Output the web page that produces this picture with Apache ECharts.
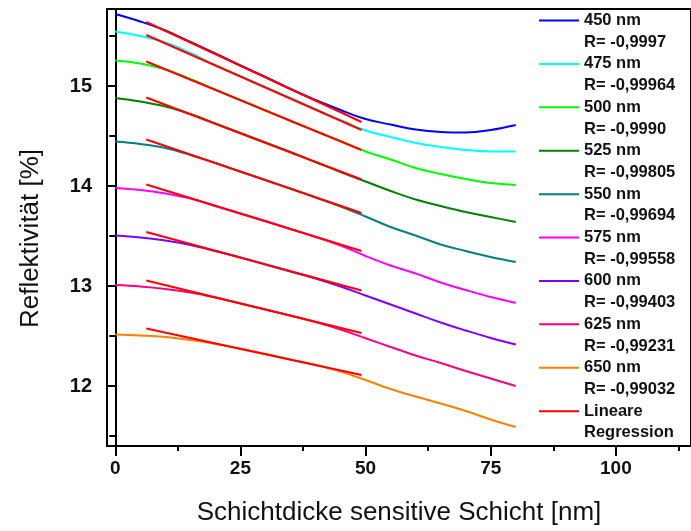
<!DOCTYPE html>
<html>
<head>
<meta charset="utf-8">
<script src="https://cdn.jsdelivr.net/npm/echarts@6/dist/echarts.min.js"></script>
<style>
  html, body { margin: 0; padding: 0; background: #fff; }
  #chart { width: 691px; height: 531px; }
</style>
</head>
<body>
<div id="chart"></div>
<script>
// Schichtdicke [nm]
const thickness = [0, 5, 10, 15, 20, 25, 30, 35, 40, 45, 50, 55, 60, 65, 70, 75, 80];

// Reflektivität [%] je Wellenlänge
const r450 = [15.72, 15.645, 15.555, 15.44, 15.325, 15.205, 15.09, 14.97, 14.86, 14.76, 14.67, 14.615, 14.565, 14.54, 14.535, 14.56, 14.61];
const r475 = [15.545, 15.5, 15.435, 15.33, 15.21, 15.1, 14.99, 14.88, 14.77, 14.66, 14.555, 14.49, 14.43, 14.39, 14.36, 14.345, 14.345];
const r500 = [15.255, 15.225, 15.165, 15.07, 14.965, 14.86, 14.755, 14.65, 14.55, 14.45, 14.345, 14.265, 14.18, 14.12, 14.07, 14.03, 14.01];
const r525 = [14.88, 14.845, 14.795, 14.72, 14.625, 14.53, 14.435, 14.34, 14.24, 14.14, 14.045, 13.95, 13.865, 13.8, 13.74, 13.69, 13.64];
const r550 = [14.445, 14.42, 14.38, 14.31, 14.23, 14.145, 14.06, 13.975, 13.885, 13.795, 13.695, 13.59, 13.505, 13.415, 13.35, 13.29, 13.24];
const r575 = [13.98, 13.96, 13.925, 13.875, 13.8, 13.725, 13.65, 13.57, 13.49, 13.405, 13.3, 13.205, 13.125, 13.035, 12.96, 12.89, 12.83];
const r600 = [13.505, 13.485, 13.455, 13.41, 13.35, 13.285, 13.215, 13.145, 13.075, 12.995, 12.905, 12.815, 12.725, 12.635, 12.555, 12.48, 12.415];
const r625 = [13.01, 12.995, 12.97, 12.935, 12.885, 12.825, 12.765, 12.705, 12.64, 12.565, 12.478, 12.39, 12.305, 12.23, 12.15, 12.075, 12.0];
const r650 = [12.515, 12.505, 12.49, 12.46, 12.42, 12.37, 12.32, 12.265, 12.21, 12.145, 12.06, 11.97, 11.895, 11.825, 11.75, 11.665, 11.59];

const curves = [r450, r475, r500, r525, r550, r575, r600, r625, r650];
const names = ['450 nm', '475 nm', '500 nm', '525 nm', '550 nm', '575 nm', '600 nm', '625 nm', '650 nm'];
const rValues = ['-0,9997', '-0,99964', '-0,9990', '-0,99805', '-0,99694', '-0,99558', '-0,99403', '-0,99231', '-0,99032'];
const colors = ['#0000ff', '#00ffff', '#00ff00', '#008000', '#008080', '#ff00ff', '#8000ff', '#ff0080', '#ff8000'];

// lineare Regression: Anfang und Ende jeder Geraden
const regX = [6.2, 49.2];
const regStart = [15.64, 15.51, 15.245, 14.885, 14.465, 14.015, 13.54, 13.055, 12.575];
const regEnd = [14.64, 14.56, 14.36, 14.065, 13.73, 13.35, 12.955, 12.53, 12.11];

const xMajorTicks = [0, 25, 50, 75, 100];
const xMinorTicks = [12.5, 37.5, 62.5, 87.5, 112.5];
const yMajorTicks = [12, 13, 14, 15];
const yMinorTicks = [11.5, 12.5, 13.5, 14.5, 15.5];

const chart = echarts.init(document.getElementById('chart'));

const font = 'Liberation Sans, Arial, sans-serif';
const xRange = { min: -1.65, max: 115 };
const yRange = { min: 11.4, max: 15.77 };

const series = [];
curves.forEach((vals, i) => {
    series.push({
        name: names[i],
        type: 'line',
        symbol: 'none',
        smooth: 0.4,
        color: colors[i],
        lineStyle: { width: 2 },
        data: thickness.map((x, j) => [x, vals[j]])
    });
});
regStart.forEach((v, i) => {
    series.push({
        name: 'Lineare Regression',
        type: 'line',
        symbol: 'none',
        color: '#ff0000',
        lineStyle: { width: 2 },
        z: 3,
        data: [[regX[0], v], [regX[1], regEnd[i]]]
    });
});

const option = {
    animation: false,
    grid: {
        left: 107, top: 9, right: -3, bottom: 84,
        show: true, borderColor: '#000', borderWidth: 2
    },
    legend: {
        orient: 'vertical',
        left: 539,
        top: -12,
        padding: 0,
        icon: 'rect',
        itemWidth: 40,
        itemHeight: 2,
        itemGap: -21.7,
        selectedMode: false,
        data: names.concat(['Lineare Regression']),
        // erste Zeile leer, damit die Linie auf Höhe der Namenszeile sitzt
        formatter: (name) => {
            const i = names.indexOf(name);
            if (i < 0) return ' \nLineare\nRegression';
            return ' \n' + name + '\nR= ' + rValues[i];
        },
        textStyle: {
            fontFamily: font, fontSize: 16.5, fontWeight: 'bold', color: '#111',
            lineHeight: 21.7
        }
    },
    xAxis: [
        {
            type: 'value', ...xRange,
            name: 'Schichtdicke sensitive Schicht [nm]',
            nameLocation: 'middle', nameGap: 54,
            nameTextStyle: { fontFamily: font, fontSize: 26, color: '#111' },
            axisLine: { lineStyle: { color: '#000', width: 2 } },
            axisTick: { customValues: xMajorTicks, length: 10, lineStyle: { color: '#000', width: 2 } },
            axisLabel: { customValues: xMajorTicks, margin: 13, fontFamily: font, fontSize: 19, fontWeight: 'bold', color: '#111' },
            splitLine: { show: false }
        },
        {
            type: 'value', ...xRange, position: 'bottom',
            axisLine: { show: false },
            axisTick: { customValues: xMinorTicks, length: 5, lineStyle: { color: '#000', width: 2 } },
            axisLabel: { show: false },
            splitLine: { show: false }
        }
    ],
    yAxis: [
        {
            type: 'value', ...yRange,
            name: 'Reflektivität [%]',
            nameLocation: 'middle', nameGap: 63,
            nameTextStyle: { fontFamily: font, fontSize: 26, color: '#111', padding: [0, 22, 0, 0] },
            axisLine: { show: true, lineStyle: { color: '#000', width: 2 } },
            axisTick: { show: true, customValues: yMajorTicks, length: 9, lineStyle: { color: '#000', width: 2 } },
            axisLabel: { customValues: yMajorTicks, margin: 15, fontFamily: font, fontSize: 20, fontWeight: 'bold', color: '#111' },
            splitLine: { show: false }
        },
        {
            type: 'value', ...yRange, position: 'left',
            axisLine: { show: false },
            axisTick: { show: true, customValues: yMinorTicks, length: 6, lineStyle: { color: '#000', width: 2 } },
            axisLabel: { show: false },
            splitLine: { show: false }
        }
    ],
    series: series
};

chart.setOption(option);
</script>
</body>
</html>
